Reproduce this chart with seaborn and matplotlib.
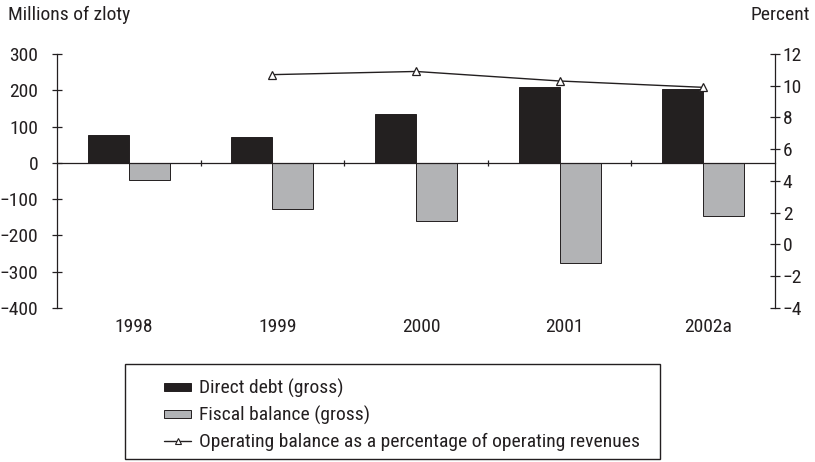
import numpy as np
import pandas as pd
import matplotlib
matplotlib.use("Agg")
import matplotlib.pyplot as plt
import matplotlib.transforms as mtransforms
from matplotlib.patches import Patch, Rectangle
from matplotlib.lines import Line2D
from matplotlib.ticker import FixedLocator
import seaborn as sns

# Data (millions of zloty, and percent for the line)
years = ["1998", "1999", "2000", "2001", "2002a"]
direct_debt = [76, 70, 135, 208, 204]
fiscal_balance = [-48, -126, -161, -277, -146]
operating_balance_pct = [np.nan, 10.7, 10.9, 10.3, 9.9]

series_names = ["Direct debt (gross)", "Fiscal balance (gross)"]
line_name = "Operating balance as a percentage of operating revenues"

DARK = "#231f20"
GREY = "#b1b3b6"
FS = 14

sns.set_theme(style="white")
plt.rcParams["font.family"] = ["Roboto Condensed", "Roboto", "DejaVu Sans"]
plt.rcParams["font.size"] = FS
plt.rcParams["text.color"] = DARK
plt.rcParams["axes.labelcolor"] = DARK
plt.rcParams["xtick.color"] = DARK
plt.rcParams["ytick.color"] = DARK

df = pd.DataFrame({
    "year": years * 2,
    "value": direct_debt + fiscal_balance,
    "series": [series_names[0]] * len(years) + [series_names[1]] * len(years),
})

W, H = 815, 462
fig = plt.figure(figsize=(W / 100, H / 100), dpi=100)
fig.subplots_adjust(left=57 / W, right=775 / W, top=1 - 54 / H, bottom=1 - 308 / H)
ax = fig.add_subplot(111)

sns.barplot(data=df, x="year", y="value", hue="series", order=years,
            hue_order=series_names,
            palette={series_names[0]: DARK, series_names[1]: GREY},
            width=0.57, gap=0, edgecolor=DARK, linewidth=0.7,
            legend=False, ax=ax)

ax.set_ylim(-400, 300)
ax.set_yticks(np.arange(-400, 301, 100))
ax.set_xlim(-0.5, len(years) - 0.5)
ax.set_xlabel("")
ax.set_ylabel("")

# Axis styling: left spine, zero line carrying the category separators
for side in ["top", "right"]:
    ax.spines[side].set_visible(False)
ax.spines["left"].set_color(DARK)
ax.spines["left"].set_linewidth(0.9)
ax.spines["bottom"].set_position(("data", 0))
ax.spines["bottom"].set_color(DARK)
ax.spines["bottom"].set_linewidth(0.9)

ax.tick_params(axis="y", which="major", direction="inout", length=7, width=0.9,
               pad=10, labelsize=FS, left=True)
ax.xaxis.set_minor_locator(FixedLocator(np.arange(0.5, len(years) - 1, 1.0)))
ax.tick_params(axis="x", which="minor", direction="inout", length=5, width=0.9,
               bottom=True)
ax.tick_params(axis="x", which="major", length=0, pad=112, labelsize=FS)
# nudge the year labels slightly to the right
shift = mtransforms.ScaledTranslation(5 / 100, 0, fig.dpi_scale_trans)
for lbl in ax.get_xticklabels():
    lbl.set_transform(lbl.get_transform() + shift)

# Right axis: operating balance line
ax2 = ax.twinx()
pos = np.arange(len(years))
vals = np.array(operating_balance_pct, dtype=float)
mask = ~np.isnan(vals)
sns.lineplot(x=pos[mask], y=vals[mask], ax=ax2, color=DARK, linewidth=1.0,
             marker="^", markersize=6, markerfacecolor="white",
             markeredgecolor=DARK, markeredgewidth=0.9)
ax2.set_ylim(-4, 12)
ax2.set_yticks(np.arange(-4, 13, 2))
ax2.set_xlim(-0.5, len(years) - 0.5)
for side in ["top", "left", "bottom"]:
    ax2.spines[side].set_visible(False)
ax2.spines["right"].set_color(DARK)
ax2.spines["right"].set_linewidth(0.9)
ax2.tick_params(axis="y", direction="inout", length=7, width=0.9, pad=2,
                labelsize=FS, right=True)
ax2.set_ylabel("")

# Axis titles
fig.text(8 / W, 1 - 15 / H, "Millions of zloty", ha="left", va="center", fontsize=FS)
fig.text(810 / W, 1 - 15 / H, "Percent", ha="right", va="center", fontsize=FS)

# Legend in a box below the plot
handles = [
    Patch(facecolor=DARK, edgecolor=DARK, linewidth=0.7),
    Patch(facecolor=GREY, edgecolor=DARK, linewidth=0.7),
    Line2D([0], [0], color=DARK, linewidth=1.0, marker="^", markersize=5,
           markerfacecolor="white", markeredgecolor=DARK, markeredgewidth=0.8),
]
fig.legend(handles, series_names + [line_name], loc="upper left",
           bbox_to_anchor=(164 / W, 1 - 379 / H), frameon=False,
           borderpad=0, borderaxespad=0, handlelength=1.4, handleheight=0.3,
           handletextpad=0.4, labelspacing=0.4, fontsize=FS)
fig.add_artist(Rectangle((125 / W, 1 - 459 / H), (660 - 125) / W, (459 - 364) / H,
                         transform=fig.transFigure, fill=False,
                         edgecolor=DARK, linewidth=1.0))

fig.savefig("out.png", dpi=100)
